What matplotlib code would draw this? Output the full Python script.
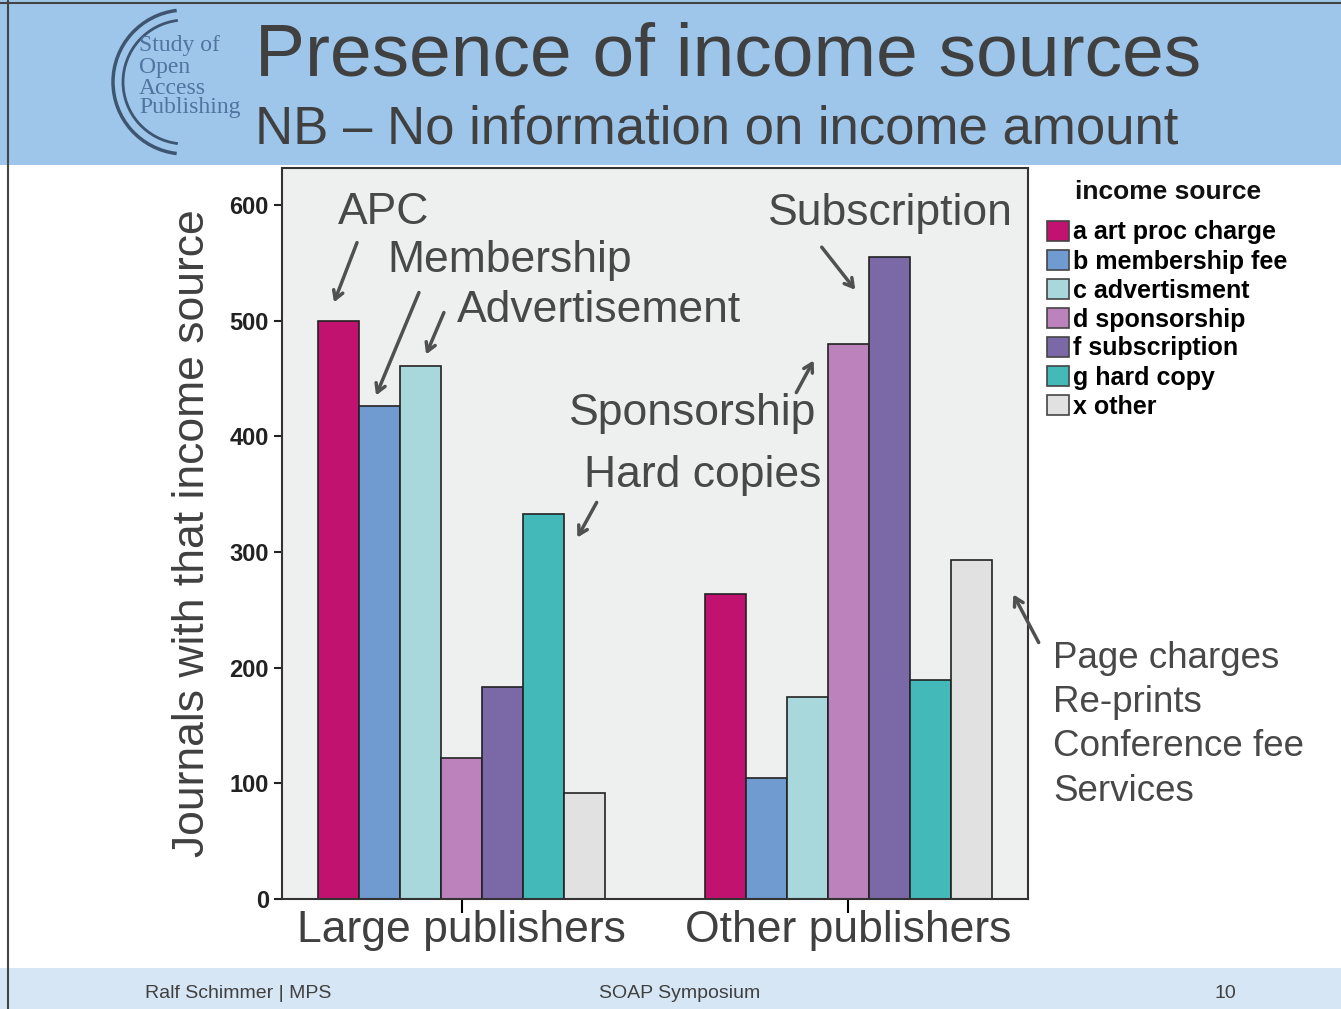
import matplotlib.pyplot as plt
from matplotlib.patches import Rectangle, Arc, Patch
import numpy as np

plt.rcParams['font.family'] = ['Liberation Sans', 'DejaVu Sans']

# data
groups = ['Large publishers', 'Other publishers']
sources = ['a art proc charge', 'b membership fee', 'c advertisment', 'd sponsorship',
           'f subscription', 'g hard copy', 'x other']
colors = ['#c0126e', '#6f9bd0', '#a8d7dc', '#bb82bb', '#7b68a6', '#43b9b9', '#e1e1e1']
large = [500, 426, 461, 122, 183, 333, 92]
other = [264, 105, 175, 480, 555, 189, 293]

W, H = 1341, 1009
fig = plt.figure(figsize=(W / 100, H / 100), dpi=100)
fig.patch.set_facecolor('white')


def fp(x, y):
    # pixel (from top-left) -> figure fraction
    return x / W, 1 - y / H


# header and footer bands
fig.patches.append(Rectangle(fp(0, 165), 1, 165 / H, transform=fig.transFigure,
                             facecolor='#9ec6ea', edgecolor='none', zorder=0))
fig.patches.append(Rectangle(fp(0, 1009), 1, 41 / H, transform=fig.transFigure,
                             facecolor='#d6e6f4', edgecolor='none', zorder=0))
fig.add_artist(plt.Line2D([8 / W, 8 / W], [0, 1], transform=fig.transFigure, color='#444', lw=1.5))
fig.add_artist(plt.Line2D([0, 1], [1 - 3 / H, 1 - 3 / H], transform=fig.transFigure, color='#444', lw=1.5))

# logo
for r, lw in [(72, 2.5), (62, 2.0)]:
    cx, cy = fp(185, 82)
    fig.add_artist(Arc((cx, cy), 2 * r / W, 2 * r / H, theta1=95, theta2=265,
                       transform=fig.transFigure, color='#3d5570', lw=lw))
logo = [('Study of', 45), ('Open', 67), ('Access', 88), ('Publishing', 108)]
for s, y in logo:
    fig.text(*fp(139, y), s, fontsize=17, family=['Liberation Serif', 'DejaVu Serif'],
             color='#4f74a0', va='center', ha='left')

fig.text(*fp(255, 56), 'Presence of income sources', fontsize=54, color='#404040',
         va='center', ha='left')
fig.text(*fp(255, 130), 'NB \u2013 No information on income amount', fontsize=38,
         color='#404040', va='center', ha='left')

# footer
fig.text(*fp(145, 993), 'Ralf Schimmer | MPS', fontsize=14, color='#404040', va='center')
fig.text(*fp(680, 993), 'SOAP Symposium', fontsize=14, color='#404040', va='center', ha='center')
fig.text(*fp(1225, 993), '10', fontsize=14, color='#404040', va='center', ha='center')

# axes
ax = fig.add_axes([282 / W, 1 - 899 / H, 746 / W, 731 / H])
ax.set_facecolor('#eef0f0')
x = np.arange(len(groups))
w = 0.106
vals = np.array([large, other])
handles = []
for i, (name, c) in enumerate(zip(sources, colors)):
    offs = (i - 3) * w
    ax.bar(x + offs, vals[:, i], width=w, color=c, edgecolor='#222222', linewidth=1.2)
    handles.append(Patch(facecolor=c, edgecolor='#444444', linewidth=1.2, label=name))

ax.set_xlim(-0.465, 1.465)
ax.set_ylim(0, 632)
ax.set_yticks(range(0, 601, 100))
ax.set_xticks(x)
ax.set_xticklabels(groups, fontsize=32, color='#404040')
ax.tick_params(axis='y', labelsize=17, direction='out', length=6, width=1.5, colors='#222')
ax.tick_params(axis='x', direction='out', length=10, width=1.5, pad=-2)
for t in ax.get_yticklabels():
    t.set_fontweight('bold')
for s in ax.spines.values():
    s.set_color('#333333')
    s.set_linewidth(1.5)
ax.set_ylabel('Journals with that income source', fontsize=32, color='#404040', labelpad=12)

# legend
fig.text(*fp(1168, 192), 'income source', fontsize=19, fontweight='bold', color='#111',
         ha='center', va='center')
fig.legend(handles=handles, loc='upper left', bbox_to_anchor=fp(1029, 203), frameon=False,
           prop={'size': 18, 'weight': 'bold'}, handlelength=0.9, handleheight=0.9,
           handletextpad=0.15, labelspacing=0.2, borderpad=0.2)

# annotations
txt = '#484848'
labels = [('APC', 338, 212), ('Membership', 387, 260), ('Advertisement', 457, 311),
          ('Subscription', 768, 214), ('Sponsorship', 569, 413), ('Hard copies', 584, 475)]
for s, lx, ly in labels:
    fig.text(*fp(lx, ly), s, fontsize=32, color=txt, va='center', ha='left')

for i, s in enumerate(['Page charges', 'Re-prints', 'Conference fee', 'Services']):
    fig.text(*fp(1053, 658 + i * 44.5), s, fontsize=26.5, color=txt, va='center', ha='left')

arrows = [((358, 240), (333, 305)), ((420, 290), (375, 398)), ((445, 310), (425, 357)),
          ((598, 500), (576, 540)), ((795, 395), (815, 358)), ((820, 245), (857, 292)),
          ((1040, 645), (1012, 592))]
for (x0, y0), (x1, y1) in arrows:
    fig.add_artist(plt.Annotation('', xy=fp(x1, y1), xytext=fp(x0, y0),
                                  xycoords='figure fraction', textcoords='figure fraction',
                                  arrowprops=dict(arrowstyle='->,head_length=0.6,head_width=0.35',
                                                  color='#505050', lw=2.5)))

fig.savefig('out.png', dpi=100)
